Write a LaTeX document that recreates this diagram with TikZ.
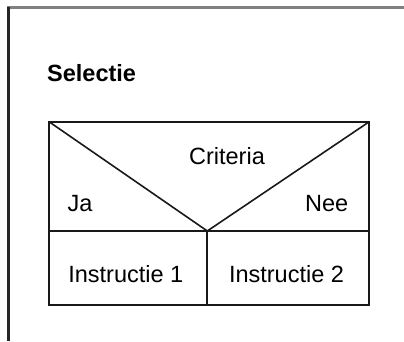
\documentclass[tikz,border=0pt]{standalone}
\usepackage{fontspec}
\setmainfont{Liberation Sans}
\usepackage{tikz}

\begin{document}
\begin{tikzpicture}[x=1pt,y=-1pt]
					\tikzstyle{every node}+=[inner sep=0pt,font=\fontsize{23.5}{28}\selectfont]
					\useasboundingbox (0,0) rectangle (404,341);
					\draw [black!50,line width=2.2pt] (7,7.5) -- (404,7.5);
					\draw [black!85,line width=3pt] (8,6.5) -- (8,341);
					\draw (47,81.5) node [anchor=base west,font=\fontsize{23.5}{28}\selectfont\bfseries] (title) {Selectie};
					\draw [black!90,line width=1.8pt] (49,121.7) rectangle (369.3,305.3);
					\draw [black!90,line width=1.8pt] (49,231) -- (369.3,231);
					\draw [black!90,line width=1.6pt] (49,121.7) -- (207.3,231) -- (369.3,121.7);
					\draw [black!90,line width=1.8pt] (207.3,231) -- (207.3,305.3);
					\draw (227,164) node [anchor=base] (crit) {Criteria};
					\draw (67.5,211.5) node [anchor=base west] (ja) {Ja};
					\draw (348.5,211.5) node [anchor=base east] (nee) {Nee};
					\draw (125.8,282.7) node [anchor=base] (instr1) {Instructie 1};
					\draw (286.5,282.7) node [anchor=base] (instr2) {Instructie 2};
				\end{tikzpicture}
\end{document}
